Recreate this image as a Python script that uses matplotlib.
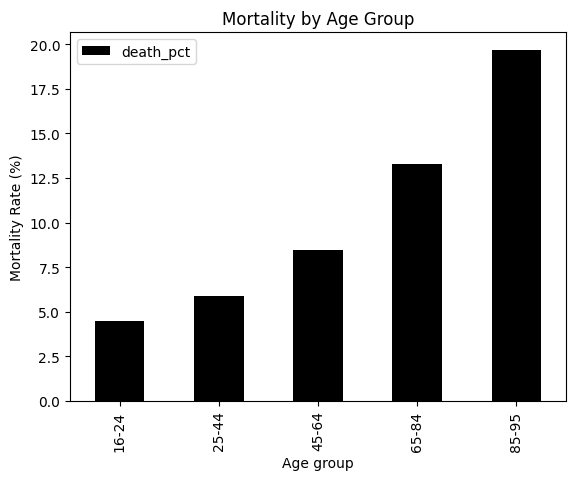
import pandas as pd
import matplotlib
matplotlib.use("Agg")
import matplotlib.pyplot as plt

age_groups = ["16-24", "25-44", "45-64", "65-84", "85-95"]
death_pct = [4.48, 5.89, 8.46, 13.27, 19.71]

df = pd.DataFrame({"death_pct": death_pct}, index=age_groups)
df.index.name = "Age group"

fig, ax = plt.subplots(figsize=(5.76, 4.81), dpi=100)
fig.subplots_adjust(left=0.1215, right=0.9826, top=0.9314, bottom=0.1649)
df.plot(kind="bar", color="black", ax=ax)
ax.set_title("Mortality by Age Group")
ax.set_ylabel("Mortality Rate (%)")
ax.set_xlabel("Age group")

fig.savefig("out.png", dpi=100)
